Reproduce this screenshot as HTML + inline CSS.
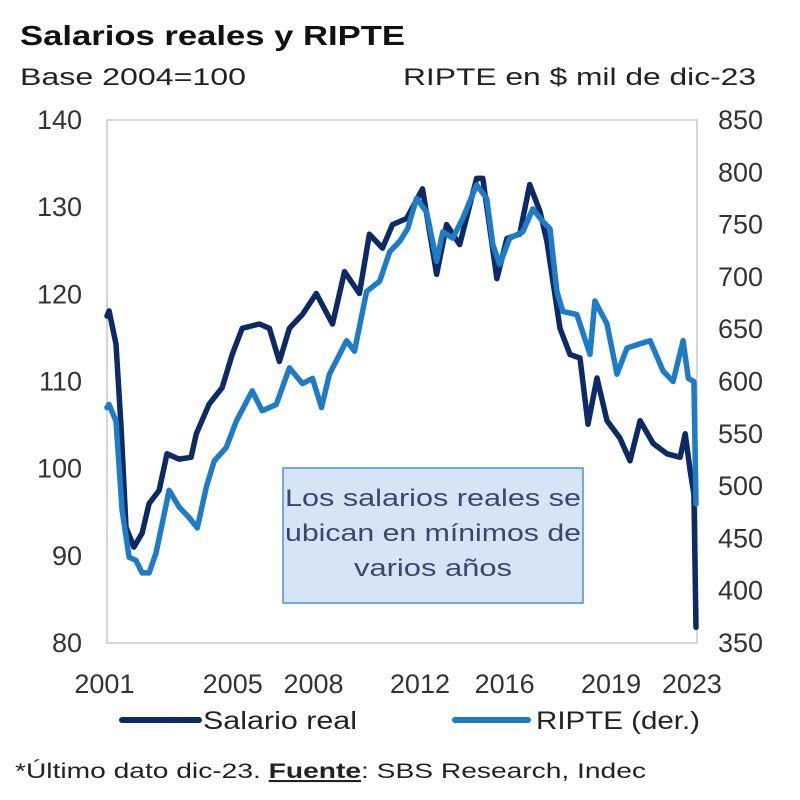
<!DOCTYPE html>
<html><head><meta charset="utf-8"><style>
html,body{margin:0;padding:0;background:#fff;}
svg{display:block;font-family:"Liberation Sans",sans-serif;}
</style></head><body>
<svg id="chart" width="800" height="800" viewBox="0 0 800 800" xmlns="http://www.w3.org/2000/svg">
<text x="20" y="45" font-size="28" font-weight="bold" fill="#111" textLength="385" lengthAdjust="spacingAndGlyphs">Salarios reales y RIPTE</text>
<text x="20" y="85" font-size="24" fill="#222" textLength="226" lengthAdjust="spacingAndGlyphs">Base 2004=100</text>
<text x="403" y="85" font-size="24" fill="#222" textLength="353" lengthAdjust="spacingAndGlyphs">RIPTE en $ mil de dic-23</text>
<rect x="107" y="120" width="590" height="523" fill="none" stroke="#c8c8c8" stroke-width="1.5"/>
<g id="yl"></g>
<g id="yr"></g>
<g id="xa"></g>
<g id="series"></g>
<g>
<rect x="283" y="468" width="300" height="135" fill="#d6e5f6" stroke="#4a90d2" stroke-width="1.5"/>
<text x="433" y="506" font-size="24" fill="#3b4670" text-anchor="middle" textLength="296" lengthAdjust="spacingAndGlyphs">Los salarios reales se</text>
<text x="433" y="541" font-size="24" fill="#3b4670" text-anchor="middle" textLength="296" lengthAdjust="spacingAndGlyphs">ubican en mínimos de</text>
<text x="433" y="576" font-size="24" fill="#3b4670" text-anchor="middle" textLength="158" lengthAdjust="spacingAndGlyphs">varios años</text>
</g>
<g>
<g>
<line x1="122" y1="720" x2="199" y2="720" stroke="#0d2a66" stroke-width="6" stroke-linecap="round"/>
<text x="203" y="729" font-size="25" fill="#222" textLength="154" lengthAdjust="spacingAndGlyphs">Salario real</text></g>
<g>
<line x1="455" y1="720" x2="528" y2="720" stroke="#1e7bc6" stroke-width="6" stroke-linecap="round"/>
<text x="536" y="729" font-size="25" fill="#222" textLength="164" lengthAdjust="spacingAndGlyphs">RIPTE (der.)</text></g>
</g>
<text x="15" y="778" font-size="21" fill="#222" textLength="631" lengthAdjust="spacingAndGlyphs">*Último dato dic-23. <tspan font-weight="bold" text-decoration="underline">Fuente</tspan>: SBS Research, Indec</text>
</svg>
<script>
const salarioYears=[2001.0,2001.08,2001.35,2001.55,2001.74,2002.05,2002.37,2002.64,2003.03,2003.34,2003.81,2004.28,2004.48,2004.98,2005.49,2005.88,2006.27,2006.94,2007.33,2007.72,2008.11,2008.62,2009.16,2009.79,2010.26,2010.84,2011.23,2011.74,2012.13,2012.68,2013.3,2013.85,2014.24,2014.75,2015.41,2015.65,2016.2,2016.59,2017.09,2017.48,2017.88,2018.15,2018.66,2019.05,2019.44,2019.75,2020.1,2020.49,2021.0,2021.39,2021.78,2022.29,2022.83,2023.34,2023.54,2023.73,2023.88,2023.96];
const salarioValues=[117.5,118.1,114.3,104.7,93.3,91,92.6,96,97.5,101.7,101.1,101.3,104,107.4,109.3,113.1,116.1,116.6,116.1,112.3,116.1,117.7,120.1,116.6,122.6,120.1,126.9,125.3,128,128.7,132.1,122.3,128,125.7,133.3,133.3,121.8,126.4,126.9,132.6,129.5,126.1,116.1,113.1,112.7,105.1,110.4,105.5,103.5,100.9,105.5,102.9,101.7,101.3,104,99.8,97.1,81.8];
const ripteYears=[2001.0,2001.08,2001.35,2001.59,2001.86,2002.13,2002.37,2002.64,2002.91,2003.15,2003.42,2003.81,2004.2,2004.52,2004.87,2005.18,2005.65,2006.04,2006.66,2007.05,2007.6,2008.11,2008.62,2009.01,2009.36,2009.67,2010.34,2010.65,2011.12,2011.63,2012.02,2012.41,2012.72,2013.07,2013.46,2013.85,2014.09,2014.48,2014.87,2015.41,2015.8,2016.04,2016.31,2016.7,2017.21,2017.6,2017.99,2018.27,2018.54,2018.77,2019.32,2019.83,2020.02,2020.49,2020.88,2021.27,2021.78,2022.17,2022.68,2023.07,2023.46,2023.66,2023.88,2023.96];
const ripteValues=[575,578,562,477,432,429,417,417,436,464,496,480,470,460,499,524,537,562,591,572,578,613,598,603,575,607,639,629,686,696,724,734,746,775,762,715,743,737,756,788,775,731,712,737,743,765,753,746,686,667,664,626,677,655,607,632,636,639,610,600,639,603,600,483];
const leftTicks=[80,90,100,110,120,130,140];
const rightTicks=[350,400,450,500,550,600,650,700,750,800,850];
const xTickLabels=["2001","2005","2008","2012","2016","2019","2023"];
const xTickYears=[2000.9,2005.9,2009.05,2013.2,2016.5,2020.65,2023.8];

const NS="http://www.w3.org/2000/svg";
const X0=107,X1=697,Y0=643,Y1=120;
const xs=y=>X0+(y-2001)/(2024-2001)*(X1-X0);
const yl=v=>Y0-(v-80)/60*(Y0-Y1);
const yr=v=>Y0-(v-350)/500*(Y0-Y1);
function mk(tag,attrs,parent,txt){const e=document.createElementNS(NS,tag);for(const k in attrs)e.setAttribute(k,attrs[k]);if(txt!==undefined)e.textContent=txt;parent.appendChild(e);return e;}
const gl=document.getElementById('yl'),gr=document.getElementById('yr'),gx=document.getElementById('xa'),gs=document.getElementById('series');
leftTicks.forEach(v=>{const t=mk('text',{x:82,y:yl(v)+9,'font-size':27,fill:'#333','text-anchor':'end'},gl,String(v));

});
rightTicks.forEach(v=>{const t=mk('text',{x:718,y:yr(v)+9,'font-size':27,fill:'#333'},gr,String(v));

});
xTickLabels.forEach((l,i)=>{const t=mk('text',{x:xs(xTickYears[i]),y:693,'font-size':27,fill:'#333','text-anchor':'middle'},gx,l);

});
function line(years,vals,sc,color,name){
 const d=years.map((y,i)=>(i?'L':'M')+xs(y).toFixed(1)+' '+sc(vals[i]).toFixed(1)).join(' ');
 const p=mk('path',{d:d,fill:'none',stroke:color,'stroke-width':5.5,'stroke-linejoin':'round','stroke-linecap':'round'},gs);
 
 
}
line(salarioYears,salarioValues,yl,'#0d2a66','salario-real-line');
line(ripteYears,ripteValues,yr,'#1e7bc6','ripte-line');
</script>
</body></html>
